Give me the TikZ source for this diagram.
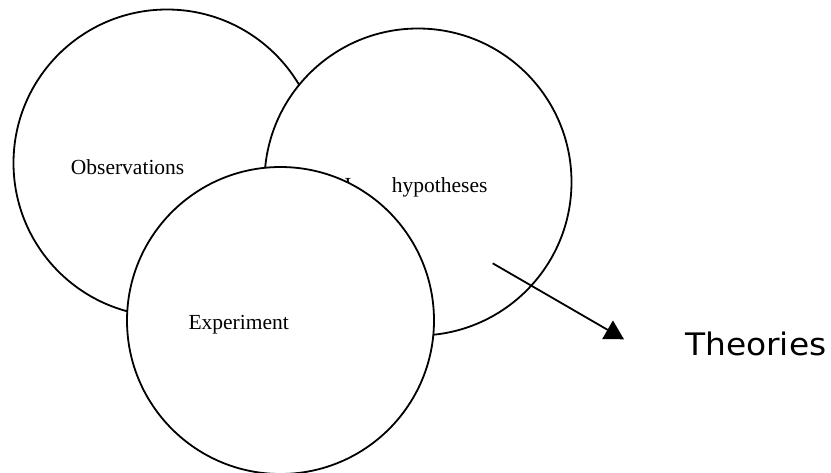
\documentclass[tikz,border=0pt]{standalone}
\usepackage{fontspec}
\usepackage{graphicx}
\setmainfont{Liberation Serif}
\newfontfamily\sansf{DejaVu Sans}
\usetikzlibrary{arrows.meta}
\begin{document}
\begin{tikzpicture}[x=1pt,y=-1pt,
  bubble/.style={circle,draw=black,fill=white,line width=1.8pt,minimum size=307pt,inner sep=0pt},
  lbl/.style={inner sep=0pt,font=\fontsize{21.5}{24}\selectfont},
  theolbl/.style={inner sep=0pt,font=\sansf\fontsize{31}{34}\selectfont},
  conn/.style={line width=1.8pt,-{Triangle[length=19pt,width=21pt]}}]
\useasboundingbox (0,0) rectangle (831,472);
\node[bubble] (obs) at (167,163) {};
\node[lbl,anchor=base west] (obst) at (70.7,174) {Observations};
\node[bubble] (hyp) at (418,182) {};
\node[lbl,anchor=base west] (hypt) at (391.7,192.7) {hypotheses};
\node[lbl,anchor=base] (cursor) at (348,192.7) {I};
\node[bubble] (exp) at (280.5,320.5) {};
\node[lbl,anchor=base west] (expt) at (188.3,329.5) {Experiment};
\coordinate (astart) at (492.7,263.3);
\coordinate (aend) at (624,339.3);
\draw[conn] (astart) -- (aend);
\node[theolbl,anchor=base west] (theo) at (685,355) {\scalebox{1.06}[1]{Theories}};
\end{tikzpicture}
\end{document}
